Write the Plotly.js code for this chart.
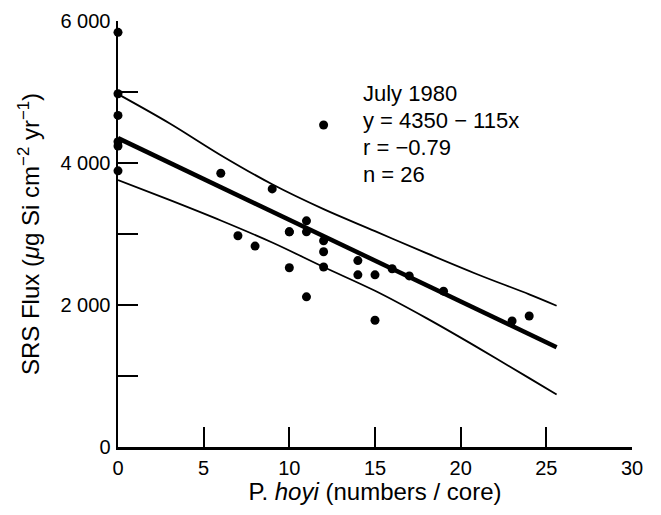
<!DOCTYPE html>
<html>
<head>
<meta charset="utf-8">
<script src="https://cdn.plot.ly/plotly-3.0.1.min.js"></script>
<style>html,body{margin:0;padding:0;background:#fff;}#chart{width:661px;height:515px;}</style>
</head>
<body>
<div id="chart"></div>
<script>
// Observed points: P. hoyi (numbers/core) vs SRS flux
const hoyi = [0, 0, 0, 0, 0, 0, 6, 7, 8, 9, 10, 10, 10, 11, 11, 11, 12, 12, 12, 12, 14, 14, 15, 15, 16, 17, 19, 23, 24];
const flux = [5840, 4975, 4670, 4300, 4240, 3890, 3855, 2975, 2830, 3635, 3030, 2525, 3030, 3185, 3030, 2115, 2905, 2750, 2535, 4535, 2625, 2425, 2425, 1785, 2510, 2410, 2195, 1775, 1845];

// Regression line y = 4350 - 115x
const fitX = [0, 25.6];
const fitY = [4350, 1406];

// Confidence band curves
const upX = [0, 3, 6, 9, 12, 15, 18, 21, 24, 25.6];
const upY = [4970, 4560, 4110, 3700, 3350, 3040, 2730, 2430, 2150, 1990];
const loX = [0, 3, 6, 9, 12, 15, 18, 21, 24, 25.6];
const loY = [3760, 3480, 3190, 2880, 2535, 2200, 1815, 1400, 970, 740];

// Axis ticks
const xTicks = [0, 5, 10, 15, 20, 25, 30];
const xTickText = ['0', '5', '10', '15', '20', '25', '30'];
const yTicks = [0, 2000, 4000, 6000];
const yTickText = ['0', '2 000', '4 000', '6 000'];
const yMinorStep = 1000;

// Annotation text lines
const noteLines = ['July 1980', 'y = 4350 − 115x', 'r = −0.79', 'n = 26'];
const noteY = [4972, 4596, 4221, 3845];
const noteX = 14.2;

const FONT = 'Liberation Sans, Arial, Helvetica, sans-serif';

const traces = [
  {x: upX, y: upY, mode: 'lines', line: {color: '#000', width: 1.8, shape: 'spline', smoothing: 1}, hoverinfo: 'skip', cliponaxis: false},
  {x: loX, y: loY, mode: 'lines', line: {color: '#000', width: 1.8, shape: 'spline', smoothing: 1}, hoverinfo: 'skip', cliponaxis: false},
  {x: fitX, y: fitY, mode: 'lines', line: {color: '#000', width: 4.5}, cliponaxis: false},
  {x: hoyi, y: flux, mode: 'markers', marker: {color: '#000', size: 9}, cliponaxis: false}
];

const annotations = noteLines.map((t, i) => ({
  x: noteX, y: noteY[i], xref: 'x', yref: 'y', text: t, showarrow: false,
  xanchor: 'left', yanchor: 'middle', font: {family: FONT, size: 22, color: '#000'}
}));

const layout = {
  width: 661, height: 515,
  margin: {l: 118, r: 29, t: 21, b: 68},
  paper_bgcolor: '#fff', plot_bgcolor: '#fff',
  showlegend: false,
  font: {family: FONT, color: '#000'},
  xaxis: {
    range: [0, 30], tickvals: xTicks, ticktext: xTickText,
    ticks: 'inside', ticklen: 20, tickwidth: 2, tickcolor: '#000',
    showline: true, linewidth: 2.5, linecolor: '#000',
    showgrid: false, zeroline: false, ticklabelstandoff: 1,
    tickfont: {family: FONT, size: 20, color: '#000'},
    title: {text: 'P. <i>hoyi</i> (numbers / core)', font: {family: FONT, size: 24, color: '#000'}, standoff: 5}
  },
  yaxis: {
    range: [0, 6000], tickvals: yTicks, ticktext: yTickText,
    ticks: 'inside', ticklen: 20, tickwidth: 2, tickcolor: '#000',
    minor: {dtick: yMinorStep, tick0: 0, ticks: 'inside', ticklen: 20, tickwidth: 2, tickcolor: '#000', showgrid: false},
    showline: true, linewidth: 2.5, linecolor: '#000',
    showgrid: false, zeroline: false, ticklabelstandoff: 1,
    tickfont: {family: FONT, size: 20, color: '#000'},
    title: {text: 'SRS Flux (<i>μ</i>g Si cm<sup>−2</sup> yr<sup>−1</sup>)', font: {family: FONT, size: 24, color: '#000'}, standoff: 14}
  },
  annotations: annotations
};

Plotly.newPlot('chart', traces, layout, {displayModeBar: false, staticPlot: true});
</script>
</body>
</html>
